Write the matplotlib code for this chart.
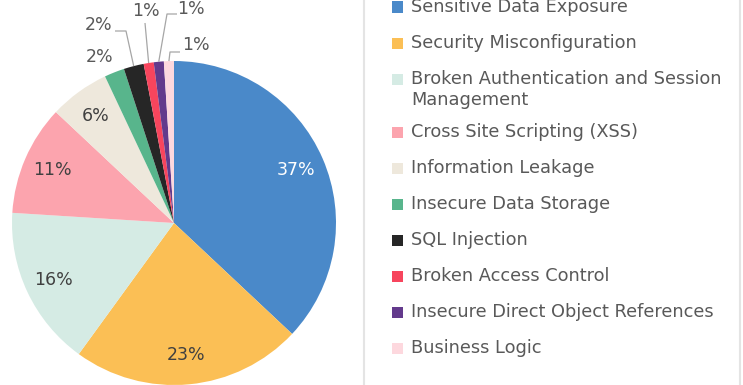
import numpy as np
import matplotlib.pyplot as plt
from matplotlib.patches import Rectangle

# Share of findings per vulnerability category (percent)
categories = [
    "Sensitive Data Exposure",
    "Security Misconfiguration",
    "Broken Authentication and Session\nManagement",
    "Cross Site Scripting (XSS)",
    "Information Leakage",
    "Insecure Data Storage",
    "SQL Injection",
    "Broken Access Control",
    "Insecure Direct Object References",
    "Business Logic",
]
shares = [37, 23, 16, 11, 6, 2, 2, 1, 1, 1]
colors = ["#4a89c9", "#fbbf55", "#d5ebe4", "#fca4ae", "#eee8dc",
          "#58b58c", "#262626", "#f7455d", "#633a8c", "#fdd8de"]

W, H = 743, 385
R = 162.0           # pie radius in pixels
CX, CY = 174, 223   # pie centre in pixels (from top-left)

TEXT = "#595959"
FONT = "DejaVu Sans"
FS_PCT = 12.5
FS_LEG = 12.8


def px(x, y):
    # pixel position -> pie data coordinates (radius 1, y up)
    return (x - CX) / R, (CY - y) / R


fig = plt.figure(figsize=(W / 100, H / 100), dpi=100)
ax = fig.add_axes([0, 0, 1, 1])

wedges, _ = ax.pie(shares, colors=colors, startangle=90, counterclock=False,
                   radius=1, wedgeprops=dict(linewidth=0))
ax.set_xlim(-CX / R, (W - CX) / R)
ax.set_ylim(-(H - CY) / R, CY / R)
ax.set_aspect("auto")
ax.axis("off")

# mid angle of every slice, radians counter-clockwise from +x
cum = np.cumsum([0] + shares[:-1])
mids = np.radians(90 - 360 * (cum + np.array(shares) / 2) / 100)

# labels inside the large slices
for i in range(5):
    r = 0.82
    col = "white" if i == 0 else "#404040"
    ax.text(r * np.cos(mids[i]), r * np.sin(mids[i]), f"{shares[i]}%",
            ha="center", va="center", color=col, fontsize=FS_PCT, family=FONT)

# labels outside the thin slices: text centre, leader start, elbow
outside = {
    5: ((100, 57), None, None),
    6: ((99, 25), (115, 31), (126, 31)),
    7: ((146, 11), (145, 23), None),
    8: ((191, 9), (177, 14), (167, 14)),
    9: ((196, 45), (180, 52), (170, 52)),
}
for i, (txt, start, elbow) in outside.items():
    tx, ty = px(*txt)
    ax.text(tx, ty, f"{shares[i]}%", ha="center", va="center",
            color=TEXT, fontsize=FS_PCT, family=FONT)
    if start is None:
        continue
    pts = [px(*start)]
    if elbow is not None:
        pts.append(px(*elbow))
    pts.append((np.cos(mids[i]), np.sin(mids[i])))
    xs, ys = zip(*pts)
    ax.plot(xs, ys, color="#a6a6a6", lw=0.9, solid_capstyle="butt")

# legend panel
panel = Rectangle((364 / W, -0.05), (740 - 364) / W, 1.1,
                  transform=fig.transFigure, facecolor="white",
                  edgecolor="#e4e4e4", lw=1.5, zorder=0)
fig.patches.append(panel)

# legend rows, laid out in pixels
row_pitch, line_h, extra = 36, 21, 17
y = 7
for name, c in zip(categories, colors):
    fig.patches.append(Rectangle((392 / W, 1 - (y + 5.5) / H), 11 / W, 11 / H,
                                 transform=fig.transFigure, facecolor=c,
                                 edgecolor="none"))
    lines = name.split("\n")
    for k, line in enumerate(lines):
        fig.text(411 / W, 1 - (y + k * line_h) / H, line, ha="left",
                 va="center", color=TEXT, fontsize=FS_LEG, family=FONT)
    y += row_pitch + extra * (len(lines) - 1)

fig.savefig("out.png", dpi=100)
